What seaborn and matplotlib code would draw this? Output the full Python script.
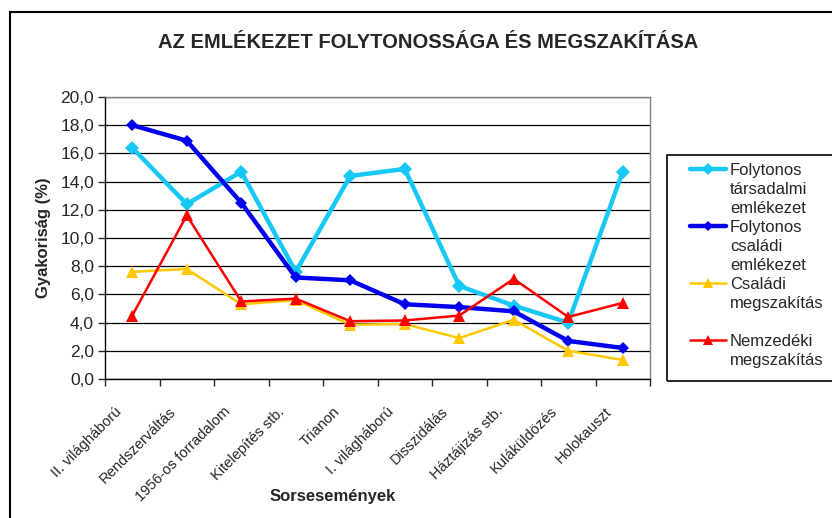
import matplotlib
matplotlib.use("Agg")
import matplotlib.pyplot as plt
import matplotlib.transforms as mtransforms
from matplotlib.lines import Line2D
from matplotlib.patches import Rectangle
from matplotlib.ticker import FixedLocator, FuncFormatter
import pandas as pd
import seaborn as sns

# Data
events = ["II. világháború", "Rendszerváltás", "1956-os forradalom", "Kitelepítés stb.",
          "Trianon", "I. világháború", "Disszidálás", "Háztájizás stb.", "Kuláküldözés",
          "Holokauszt"]
tarsadalmi = [16.4, 12.4, 14.7, 7.6, 14.4, 14.9, 6.6, 5.2, 4.0, 14.7]
csaladi = [18.0, 16.9, 12.5, 7.2, 7.0, 5.3, 5.1, 4.8, 2.7, 2.2]
csaladi_megsz = [7.6, 7.8, 5.3, 5.6, 3.85, 3.9, 2.9, 4.2, 2.0, 1.35]
nemzedeki_megsz = [4.5, 11.6, 5.5, 5.7, 4.1, 4.15, 4.5, 7.1, 4.4, 5.4]

series_names = ["Folytonos társadalmi emlékezet", "Folytonos családi emlékezet",
                "Családi megszakítás", "Nemzedéki megszakítás"]
legend_rows = [["Folytonos", "társadalmi", "emlékezet"],
               ["Folytonos", "családi", "emlékezet"],
               ["Családi", "megszakítás", ""],
               ["Nemzedéki", "megszakítás"]]

sns.set_style("white")
plt.rcParams["font.family"] = ["Liberation Sans", "DejaVu Sans"]

W, H = 832, 518
fig = plt.figure(figsize=(W / 100, H / 100), dpi=100)
ax = fig.add_axes([105 / W, 1 - 379 / H, 545 / W, 282 / H])

styles = [
    dict(color="#18C8F4", marker="D", lw=3.2, ms=7.5),
    dict(color="#0000EE", marker="D", lw=3.2, ms=6.5),
    dict(color="#FFC800", marker="^", lw=1.8, ms=9),
    dict(color="#FF0000", marker="^", lw=1.8, ms=9),
]
values = [tarsadalmi, csaladi, csaladi_megsz, nemzedeki_megsz]

for name, vals, st in zip(series_names, values, styles):
    df = pd.DataFrame({"idx": range(len(events)), "val": vals})
    sns.lineplot(data=df, x="idx", y="val", ax=ax, color=st["color"], marker=st["marker"],
                 linewidth=st["lw"], markersize=st["ms"], markeredgewidth=0,
                 markeredgecolor=st["color"], label=name, legend=False)

ax.set_xlim(-0.5, len(events) - 0.5)
ax.set_ylim(0, 20)
ax.set_yticks([0, 2, 4, 6, 8, 10, 12, 14, 16, 18, 20])
ax.yaxis.set_major_formatter(FuncFormatter(lambda v, p: f"{v:.1f}".replace(".", ",")))
ax.grid(axis="y", color="black", lw=0.9)
ax.set_axisbelow(True)
ax.tick_params(axis="y", direction="out", length=5, width=1, labelsize=12.5, pad=3, left=True)

ax.set_xticks(range(len(events)))
ax.set_xticklabels(events, rotation=45, ha="right", va="center", rotation_mode="anchor",
                   fontsize=10.5)
ax.xaxis.set_minor_locator(FixedLocator([i - 0.5 for i in range(len(events) + 1)]))
ax.tick_params(axis="x", which="major", length=0, pad=22)
ax.tick_params(axis="x", which="minor", direction="out", length=5, width=1, bottom=True)
shift = mtransforms.ScaledTranslation(-13 / 100, 0, fig.dpi_scale_trans)
for lab in ax.get_xticklabels():
    lab.set_transform(lab.get_transform() + shift)

for side in ["left", "bottom"]:
    ax.spines[side].set_color("black")
    ax.spines[side].set_linewidth(1)
for side in ["top", "right"]:
    ax.spines[side].set_color("#808080")
    ax.spines[side].set_linewidth(1)

ax.set_xlabel("Sorsesemények", fontsize=12, fontweight="bold", va="top")
ax.xaxis.set_label_coords((333 - 105) / 545, (379 - 489) / 282)
ax.set_ylabel("Gyakoriság (%)", fontsize=12, fontweight="bold")
ax.yaxis.set_label_coords((51 - 105) / 545, 0.5)

fig.text(428 / W, 1 - 42 / H, "AZ EMLÉKEZET FOLYTONOSSÁGA ÉS MEGSZAKÍTÁSA",
         ha="center", va="center", fontsize=14.5, fontweight="bold")

# outer chart border and legend box
fig.patches.append(Rectangle((10 / W, -0.05), 1.0, 1.05 - 12 / H, transform=fig.transFigure,
                             fill=False, edgecolor="black", lw=1.5))
fig.patches.append(Rectangle((667 / W, 1 - 381 / H), 0.3, 226 / H, transform=fig.transFigure,
                             fill=False, edgecolor="black", lw=1.2))

# legend: one row per text line, handle on the first line of each entry
lines = ax.get_lines()
blank = Line2D([], [], color="none")
handles, labels = [], []
for ln, rows in zip(lines, legend_rows):
    h = Line2D([], [], color=ln.get_color(), lw=ln.get_linewidth(), marker=ln.get_marker(),
               markersize=ln.get_markersize() * 0.85, markeredgewidth=0)
    for j, txt in enumerate(rows):
        handles.append(h if j == 0 else blank)
        labels.append(txt)
fig.legend(handles, labels, loc="upper left", bbox_to_anchor=(690 / W, 1 - 163 / H),
           frameon=False, borderpad=0, borderaxespad=0, fontsize=12, handlelength=2.15,
           handletextpad=0.24, labelspacing=0.24)

fig.savefig("out.png", dpi=100)
